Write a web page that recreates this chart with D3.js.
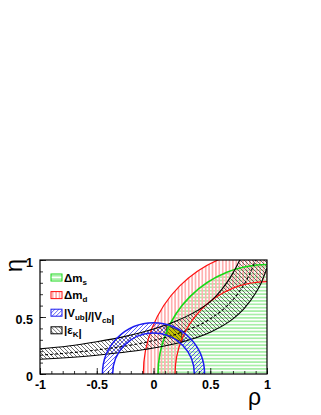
<!DOCTYPE html>
<html>
<head>
<meta charset="utf-8">
<script src="https://cdn.jsdelivr.net/npm/d3@7"></script>
<style>
  html, body { margin: 0; padding: 0; background: #fff; }
  svg { display: block; }
  text { font-family: "Liberation Sans", Arial, sans-serif; }
</style>
</head>
<body>
<div id="chart"></div>
<script>
( function () {
	'use strict';

	// ─── Data ────────────────────────────────────────────────────────────────
	// Circle constraints: centre (rho, eta) and inner / outer radius.
	var dmsCentre  = [ 1, 0 ];
	var dmsRadius  = [ 0, 0.96 ];           // Δm_s : everything inside this circle
	var dmdCentre  = [ 1, 0 ];
	var dmdRadius  = [ 0.81, 1.09 ];        // Δm_d band
	var vubCentre  = [ 0, 0 ];
	var vubRadius  = [ 0.36, 0.45 ];        // |Vub|/|Vcb| band

	// |ε_K| hyperbolic band, sampled curves.
	var ekUpperRho = [ -1, -0.75, -0.5, -0.25, 0, 0.2, 0.4, 0.5, 0.6, 0.7, 0.76 ];
	var ekUpperEta = [ 0.22, 0.245, 0.283, 0.33, 0.395, 0.465, 0.565, 0.635, 0.74, 0.885, 1.0 ];
	var ekMidRho   = [ -1, -0.5, 0, 0.25, 0.5, 0.65, 0.75, 0.85, 0.9 ];
	var ekMidEta   = [ 0.165, 0.211, 0.294, 0.367, 0.484, 0.60, 0.714, 0.882, 1.0 ];
	var ekLowerRho = [ -1, -0.5, 0, 0.25, 0.5, 0.7, 0.8, 0.9, 0.95, 1.0 ];
	var ekLowerEta = [ 0.13, 0.165, 0.228, 0.28, 0.366, 0.483, 0.575, 0.71, 0.80, 0.93 ];

	// Combined allowed region (yellow).
	var allowedRho = [ 0.11, 0.245, 0.255, 0.12 ];
	var allowedEta = [ 0.43, 0.37, 0.28, 0.335 ];

	var legendLabels = [ 'dms', 'dmd', 'vub', 'ek' ];
	var xTicks = [ -1, -0.5, 0, 0.5, 1 ];
	var yTicks = [ 0, 0.5, 1 ];
	var xTickLabels = [ '-1', '-0.5', '0', '0.5', '1' ];
	var yTickLabels = [ '0', '0.5', '1' ];

	var COLORS = {
		green:     '#16d816',
		greenHatch:'#a8eea8',
		red:       '#ff1010',
		redHatch:  '#ffb0b0',
		blue:      '#1c1cf0',
		blueHatch: '#3a3af0',
		black:     '#000',
		blackHatch:'#333',
		yellow:    '#c8c400'
	};

	var W = 321, H = 415;
	var plot = { left: 40, right: 267, top: 260, bottom: 374 };

	var svg = d3.select( '#chart' ).append( 'svg' )
		.attr( 'width', W ).attr( 'height', H );

	var x = d3.scaleLinear().domain( [ -1, 1 ] ).range( [ plot.left, plot.right ] );
	var y = d3.scaleLinear().domain( [ 0, 1 ] ).range( [ plot.bottom, plot.top ] );

	// ─── Hatch patterns ──────────────────────────────────────────────────────
	var defs = svg.append( 'defs' );
	function pattern( id, size, d, color, width ) {
		defs.append( 'pattern' )
			.attr( 'id', id )
			.attr( 'patternUnits', 'userSpaceOnUse' )
			.attr( 'width', size ).attr( 'height', size )
			.append( 'path' )
			.attr( 'd', d )
			.attr( 'stroke', color )
			.attr( 'stroke-width', width )
			.attr( 'fill', 'none' )
			.attr( 'shape-rendering', 'crispEdges' );
	}
	pattern( 'h-green', 3.4, 'M0,1.7H3.4', COLORS.greenHatch, 1 );
	pattern( 'h-red',   3.4, 'M1.7,0V3.4', COLORS.redHatch, 1 );
	defs.append( 'pattern' ).attr( 'id', 'h-blue' ).attr( 'patternUnits', 'userSpaceOnUse' )
		.attr( 'width', 4 ).attr( 'height', 4 )
		.append( 'path' ).attr( 'd', 'M-1,5L5,-1M-1,1L1,-1M3,5L5,3' )
		.attr( 'stroke', COLORS.blueHatch ).attr( 'stroke-width', 0.8 );
	defs.append( 'pattern' ).attr( 'id', 'h-black' ).attr( 'patternUnits', 'userSpaceOnUse' )
		.attr( 'width', 4 ).attr( 'height', 4 )
		.append( 'path' ).attr( 'd', 'M-1,-1L5,5M-1,3L1,5M3,-1L5,1' )
		.attr( 'stroke', COLORS.blackHatch ).attr( 'stroke-width', 0.7 );

	defs.append( 'clipPath' ).attr( 'id', 'frame-clip' )
		.append( 'rect' )
		.attr( 'x', plot.left ).attr( 'y', plot.top )
		.attr( 'width', plot.right - plot.left ).attr( 'height', plot.bottom - plot.top );

	var g = svg.append( 'g' ).attr( 'clip-path', 'url(#frame-clip)' );

	// ─── Helpers ─────────────────────────────────────────────────────────────
	function ellipsePath( c, r ) {
		if ( r <= 0 ) { return ''; }
		var cx = x( c[ 0 ] ), cy = y( c[ 1 ] );
		var rx = x( r ) - x( 0 ), ry = y( 0 ) - y( r );
		return 'M' + ( cx - rx ) + ',' + cy +
			'A' + rx + ',' + ry + ' 0 1 0 ' + ( cx + rx ) + ',' + cy +
			'A' + rx + ',' + ry + ' 0 1 0 ' + ( cx - rx ) + ',' + cy + 'Z';
	}
	function band( c, radii, fill ) {
		g.append( 'path' )
			.attr( 'd', ellipsePath( c, radii[ 1 ] ) + ellipsePath( c, radii[ 0 ] ) )
			.attr( 'fill-rule', 'evenodd' )
			.attr( 'fill', fill );
	}
	function ring( c, r, color, width, dash ) {
		g.append( 'path' )
			.attr( 'd', ellipsePath( c, r ) )
			.attr( 'fill', 'none' )
			.attr( 'stroke', color )
			.attr( 'stroke-width', width )
			.attr( 'stroke-dasharray', dash || null );
	}
	function zipPts( rs, es ) {
		return rs.map( function ( r, i ) { return [ r, es[ i ] ]; } );
	}

	var curve = d3.line()
		.x( function ( d ) { return x( d[ 0 ] ); } )
		.y( function ( d ) { return y( d[ 1 ] ); } )
		.curve( d3.curveMonotoneX );

	var upper = zipPts( ekUpperRho, ekUpperEta );
	var mid   = zipPts( ekMidRho, ekMidEta );
	var lower = zipPts( ekLowerRho, ekLowerEta );

	// ─── Fills ───────────────────────────────────────────────────────────────
	band( dmsCentre, dmsRadius, 'url(#h-green)' );
	band( dmdCentre, dmdRadius, 'url(#h-red)' );

	var lowerRev = curve( lower.slice().reverse() ).replace( /^M/, 'L' );
	g.append( 'path' )
		.attr( 'd', curve( upper ) +
			'L' + x( 1 ) + ',' + y( 1 ) +
			lowerRev + 'Z' )
		.attr( 'fill', 'url(#h-black)' );

	band( vubCentre, vubRadius, 'url(#h-blue)' );

	var allowed = zipPts( allowedRho, allowedEta );
	var poly = d3.line()
		.x( function ( d ) { return x( d[ 0 ] ); } )
		.y( function ( d ) { return y( d[ 1 ] ); } )
		.curve( d3.curveLinearClosed );
	g.append( 'path' ).attr( 'd', poly( allowed ) ).attr( 'fill', COLORS.yellow );
	g.append( 'path' ).attr( 'd', poly( allowed ) ).attr( 'fill', 'url(#h-black)' )
		.attr( 'stroke', '#333' ).attr( 'stroke-width', 1 );

	// ─── Contour lines ───────────────────────────────────────────────────────
	ring( dmdCentre, dmdRadius[ 0 ], COLORS.red, 1.2 );
	ring( dmdCentre, dmdRadius[ 1 ], COLORS.red, 1.2 );
	ring( dmsCentre, dmsRadius[ 1 ], COLORS.green, 1.6 );
	[ upper, lower ].forEach( function ( pts ) {
		g.append( 'path' ).attr( 'd', curve( pts ) )
			.attr( 'fill', 'none' ).attr( 'stroke', COLORS.black ).attr( 'stroke-width', 1.1 );
	} );
	g.append( 'path' ).attr( 'd', curve( mid ) )
		.attr( 'fill', 'none' ).attr( 'stroke', COLORS.black )
		.attr( 'stroke-width', 1.1 ).attr( 'stroke-dasharray', '3,2' );
	ring( vubCentre, vubRadius[ 0 ], COLORS.blue, 1.5 );
	ring( vubCentre, vubRadius[ 1 ], COLORS.blue, 1.5 );

	// ─── Frame & axes ────────────────────────────────────────────────────────
	svg.append( 'rect' )
		.attr( 'x', plot.left ).attr( 'y', plot.top )
		.attr( 'width', plot.right - plot.left ).attr( 'height', plot.bottom - plot.top )
		.attr( 'fill', 'none' ).attr( 'stroke', '#000' ).attr( 'stroke-width', 1.2 );

	function styleAxis( s ) {
		s.select( '.domain' ).remove();
		s.selectAll( 'line' ).attr( 'stroke', '#000' ).attr( 'stroke-width', 0.8 );
		s.selectAll( 'text' )
			.attr( 'fill', '#000' )
			.style( 'font-size', '12.5px' )
			.style( 'font-weight', 'bold' );
	}
	var xMinor = d3.range( -10, 11 ).map( function ( i ) { return i / 10; } );
	var yMinor = d3.range( 0, 11 ).map( function ( i ) { return i / 10; } );

	svg.append( 'g' ).attr( 'transform', 'translate(0,' + plot.bottom + ')' )
		.call( d3.axisBottom( x ).tickValues( xMinor ).tickSize( -3 ).tickFormat( '' ) )
		.call( styleAxis );
	svg.append( 'g' ).attr( 'transform', 'translate(0,' + plot.bottom + ')' )
		.call( d3.axisBottom( x ).tickValues( xTicks ).tickSize( -6 ).tickPadding( 6 )
			.tickFormat( function ( d, i ) { return xTickLabels[ i ]; } ) )
		.call( styleAxis );
	svg.append( 'g' ).attr( 'transform', 'translate(0,0)' )
		.attr( 'transform', 'translate(' + plot.left + ',0)' )
		.call( d3.axisLeft( y ).tickValues( yMinor ).tickSize( -3 ).tickFormat( '' ) )
		.call( styleAxis );
	svg.append( 'g' ).attr( 'transform', 'translate(' + plot.left + ',0)' )
		.call( d3.axisLeft( y ).tickValues( yTicks ).tickSize( -6 ).tickPadding( 7 )
			.tickFormat( function ( d, i ) { return yTickLabels[ i ]; } ) )
		.call( styleAxis )
		.call( function ( s ) { s.selectAll( 'text' ).attr( 'dy', '0.5em' ); } );

	// Axis titles.
	svg.append( 'text' )
		.attr( 'transform', 'translate(22,259) rotate(-90)' )
		.attr( 'text-anchor', 'end' )
		.style( 'font-size', '24px' )
		.text( 'η' );
	svg.append( 'text' )
		.attr( 'x', 261 ).attr( 'y', 405 )
		.attr( 'text-anchor', 'end' )
		.style( 'font-size', '23px' )
		.text( 'ρ' );

	// ─── Legend ──────────────────────────────────────────────────────────────
	var legendItems = {
		dms: { fill: 'url(#h-green)', stroke: COLORS.green, main: 'Δm', sub: 's' },
		dmd: { fill: 'url(#h-red)',   stroke: COLORS.red,   main: 'Δm', sub: 'd' },
		vub: { fill: 'url(#h-blue)',  stroke: COLORS.blue },
		ek:  { fill: 'url(#h-black)', stroke: COLORS.black }
	};
	var legend = svg.append( 'g' ).attr( 'transform', 'translate(51,274)' );
	var lg = legend.selectAll( 'g' ).data( legendLabels ).join( 'g' )
		.attr( 'transform', function ( d, i ) { return 'translate(0,' + ( i * 17.6 ) + ')'; } );
	lg.append( 'rect' )
		.attr( 'width', 11 ).attr( 'height', 7 )
		.attr( 'fill', function ( d ) { return legendItems[ d ].fill; } )
		.attr( 'stroke', function ( d ) { return legendItems[ d ].stroke; } )
		.attr( 'stroke-width', 1 );
	var lt = lg.append( 'text' )
		.attr( 'x', 13 ).attr( 'y', 7.5 )
		.style( 'font-size', '11.5px' )
		.style( 'font-weight', 'bold' );
	lt.each( function ( d ) {
		var t = d3.select( this );
		function sub( s ) {
			t.append( 'tspan' ).attr( 'dy', '3' ).style( 'font-size', '8px' ).text( s );
			t.append( 'tspan' ).attr( 'dy', '-3' ).text( '' );
		}
		if ( d === 'dms' || d === 'dmd' ) {
			t.append( 'tspan' ).text( 'Δm' );
			sub( legendItems[ d ].sub );
		} else if ( d === 'vub' ) {
			t.append( 'tspan' ).text( '|V' );
			sub( 'ub' );
			t.append( 'tspan' ).text( '|/|V' );
			sub( 'cb' );
			t.append( 'tspan' ).text( '|' );
		} else {
			t.append( 'tspan' ).text( '|ε' );
			sub( 'K' );
			t.append( 'tspan' ).text( '|' );
		}
	} );
} )();
</script>
</body>
</html>
